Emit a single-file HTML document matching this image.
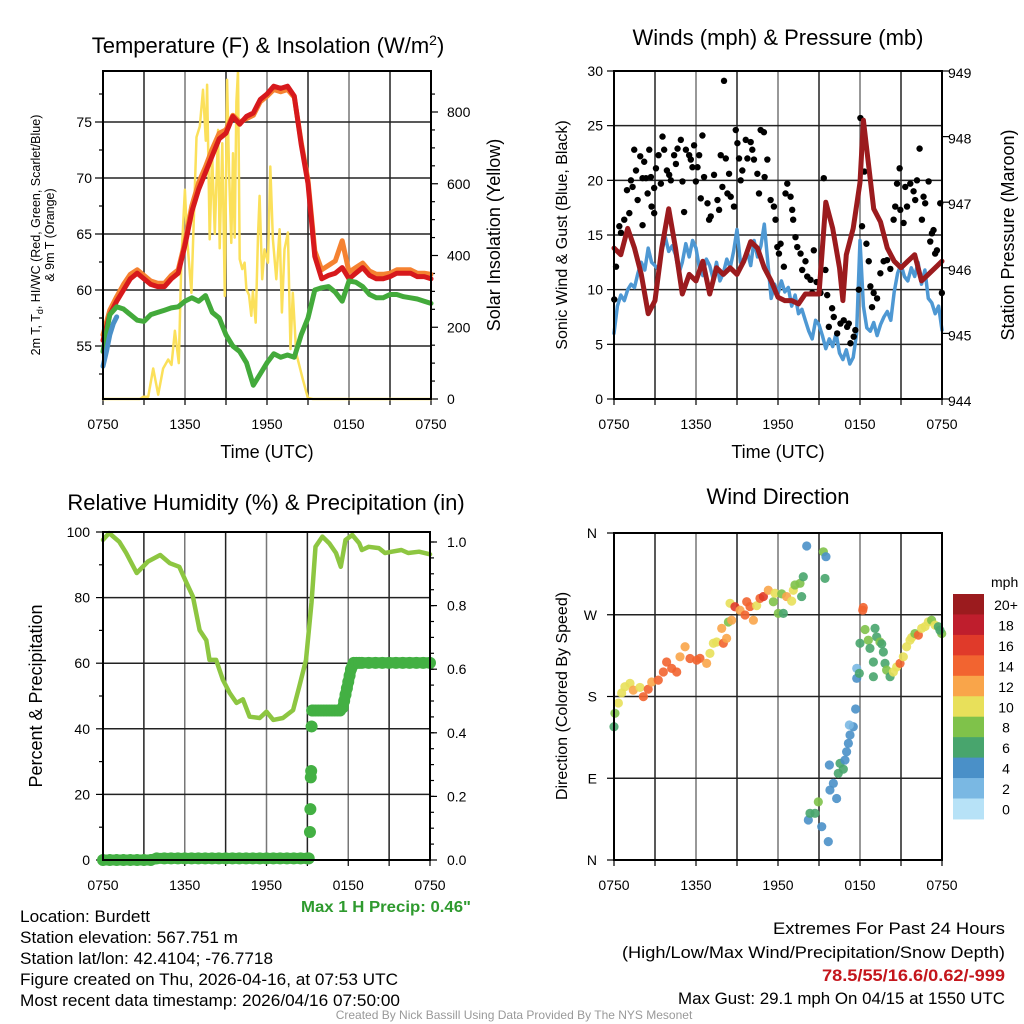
<!DOCTYPE html>
<html><head><meta charset="utf-8"><style>
html,body{margin:0;padding:0;background:#fff;}
svg{display:block;font-family:"Liberation Sans",sans-serif;}
</style></head><body>
<svg id="c" width="1024" height="1024" viewBox="0 0 1024 1024" xmlns="http://www.w3.org/2000/svg">
<rect x="0" y="0" width="1024" height="1024" fill="#fff"/>
<g id="g1"></g>
<g id="g2"></g>
<g id="g3"></g>
<g id="g4"></g>
<g font-size="22" text-anchor="middle">
<text x="268" y="53">Temperature (F) &amp; Insolation (W/m<tspan dy="-8" font-size="14">2</tspan><tspan dy="8">)</tspan></text>
<text x="778" y="45">Winds (mph) &amp; Pressure (mb)</text>
<text x="266" y="510">Relative Humidity (%) &amp; Precipitation (in)</text>
<text x="778" y="504">Wind Direction</text>
</g>
<g font-size="18" text-anchor="middle">
<text x="267" y="458">Time (UTC)</text>
<text x="778" y="458">Time (UTC)</text>
<text transform="translate(500,235) rotate(-90)">Solar Insolation (Yellow)</text>
<text transform="translate(567,235) rotate(-90)" font-size="16">Sonic Wind &amp; Gust (Blue, Black)</text>
<text transform="translate(1014,235) rotate(-90)">Station Pressure (Maroon)</text>
<text transform="translate(42,696) rotate(-90)">Percent &amp; Precipitation</text>
<text transform="translate(567,696) rotate(-90)" font-size="16">Direction (Colored By Speed)</text>
<text transform="translate(40,235) rotate(-90)" font-size="12.5">2m T, T<tspan font-size="9" dy="3">d</tspan><tspan dy="-3">, HI/WC (Red, Green, Scarlet/Blue)</tspan></text>
<text transform="translate(54,235) rotate(-90)" font-size="12.5">&amp; 9m T (Orange)</text>
</g>
<g font-size="17">
<text x="20" y="922" textLength="130" lengthAdjust="spacingAndGlyphs">Location: Burdett</text>
<text x="20" y="943" textLength="218" lengthAdjust="spacingAndGlyphs">Station elevation: 567.751 m</text>
<text x="20" y="964" textLength="253" lengthAdjust="spacingAndGlyphs">Station lat/lon: 42.4104; -76.7718</text>
<text x="20" y="985" textLength="378" lengthAdjust="spacingAndGlyphs">Figure created on Thu, 2026-04-16, at 07:53 UTC</text>
<text x="20" y="1006" textLength="380" lengthAdjust="spacingAndGlyphs">Most recent data timestamp: 2026/04/16 07:50:00</text>
</g>
<g font-size="17" text-anchor="end">
<text x="1005" y="934" textLength="232" lengthAdjust="spacingAndGlyphs">Extremes For Past 24 Hours</text>
<text x="1005" y="958" textLength="383" lengthAdjust="spacingAndGlyphs">(High/Low/Max Wind/Precipitation/Snow Depth)</text>
<text x="1005" y="981" fill="#c4161c" font-weight="bold" textLength="183" lengthAdjust="spacingAndGlyphs">78.5/55/16.6/0.62/-999</text>
<text x="1005" y="1004" textLength="327" lengthAdjust="spacingAndGlyphs">Max Gust: 29.1 mph On 04/15 at 1550 UTC</text>
</g>
<text x="471" y="912" font-size="16" font-weight="bold" fill="#2e9a2e" text-anchor="end" textLength="170" lengthAdjust="spacingAndGlyphs">Max 1 H Precip: 0.46"</text>
<text x="514" y="1019" font-size="12" fill="#999" text-anchor="middle">Created By Nick Bassill Using Data Provided By The NYS Mesonet</text>
</svg>
<script>
// ---------- DATA ----------
const xTickLabels = ["0750","1350","1950","0150","0750"];
const tempTicks = [55,60,65,70,75];
const solarTicks = [0,200,400,600,800];
const windTicks = [0,5,10,15,20,25,30];
const presTicks = [944,945,946,947,948,949];
const rhTicks = [0,20,40,60,80,100];
const precipTicks = ["0.0","0.2","0.4","0.6","0.8","1.0"];
const dirTicks = ["N","E","S","W","N"];
const speedBins = ["0","2","4","6","8","10","12","14","16","18","20+"];

const tempRed = [55.5,57.8,59,60,61,61.5,61,60.5,60.3,60.3,61,61.5,64,67,69,70.5,72,73.5,74,75.5,74.8,75.5,75.8,77,77.5,78.2,78,78.2,77.3,73,69.5,63,61,61.3,61.5,62,61,61.5,62,61.3,61,61,61.2,61.5,61.5,61.5,61.2,61.2,61];
const temp9m = [56,58.2,59.4,60.5,61.4,61.8,61.3,60.8,60.6,60.6,61.3,61.8,64.3,67.5,69.6,71,72.6,74,74.3,75.6,75,75.3,75.6,76.8,77.3,77.9,77.7,77.9,77.2,73.2,69.8,63.5,61.8,62.2,62.6,64.4,61.6,62,62.4,61.7,61.4,61.4,61.5,61.8,61.8,61.8,61.5,61.5,61.4];
const dewGreen = [54.5,57.8,58.5,58.3,57.8,57.3,57.2,57.8,58,58.2,58.4,58.5,59,59.3,59,59.5,58,57.5,56,55,54.5,53.5,51.5,52.5,53.5,54.3,54,54.2,54,56,57.5,60,60.2,60.3,59.8,59,60.8,60.7,60.3,59.6,59.3,59.3,59.6,59.6,59.4,59.3,59.2,59,58.8];
const wcTimes = [0,0.25,0.5,0.75,1.0];
const wcBlue = [53.2,54.5,56,57,57.6];
const solarTimes = [0,2.7,2.94,3.31,3.67,4.04,4.4,4.77,5.01,5.26,5.55,5.74,5.99,6.16,6.47,6.84,7.08,7.32,7.52,7.62,7.81,7.98,8.18,8.42,8.54,8.73,8.91,9.08,9.22,9.39,9.51,9.64,9.76,9.88,10.0,10.19,10.36,10.49,10.68,10.85,10.97,11.17,11.34,11.46,11.65,11.82,12.07,12.24,12.43,12.68,12.92,13.09,13.28,13.53,13.72,13.89,14.14,14.62,14.99,15.35,24];
const solarVals = [0,0,6,6,85,12,85,110,95,190,100,390,583,445,296,730,760,862,720,876,445,685,460,750,420,713,287,890,638,435,685,450,829,913,390,362,380,306,290,232,300,213,455,566,334,417,380,648,445,334,473,241,417,464,139,296,128,55,3,0,0];

const gustPts = [[0.02,9.1],[0.15,12.1],[0.39,15.8],[0.51,15.2],[0.75,16.4],[0.95,19.1],[1.12,17.0],[1.24,20.0],[1.36,19.4],[1.48,22.8],[1.61,20.9],[1.73,18.2],[1.92,22.2],[2.09,15.9],[2.09,20.2],[2.21,21.7],[2.34,20.2],[2.46,18.8],[2.58,22.8],[2.7,20.3],[2.75,17.6],[2.94,17.0],[2.94,19.3],[3.07,21.1],[3.26,22.3],[3.43,19.7],[3.55,24.0],[3.67,22.8],[3.87,20.9],[4.04,20.5],[4.16,20.0],[4.4,22.3],[4.53,21.5],[4.65,22.9],[4.89,23.7],[5.01,19.9],[5.13,17.1],[5.26,22.8],[5.5,22.3],[5.62,21.9],[5.74,21.2],[5.86,23.2],[5.99,19.9],[6.11,21.2],[6.23,22.3],[6.47,24.1],[6.35,18.35],[6.59,20.3],[6.84,17.9],[6.96,16.4],[7.08,16.7],[7.32,20.5],[7.57,18.2],[7.69,17.3],[7.81,22.3],[7.93,19.4],[8.05,29.1],[8.18,22.0],[8.3,18.8],[8.42,20.6],[8.54,18.5],[8.78,17.6],[8.91,24.6],[9.03,23.4],[9.15,22.0],[9.27,20.0],[9.39,20.9],[9.64,23.7],[9.76,22.0],[10.0,23.5],[10.12,22.8],[10.24,21.9],[10.49,20.6],[10.61,18.8],[10.73,24.6],[10.97,24.4],[11.02,20.3],[11.22,21.9],[11.46,18.2],[11.7,17.6],[11.82,16.4],[11.95,13.9],[12.07,13.3],[12.19,14.2],[12.43,12.1],[12.55,18.8],[12.68,19.7],[12.92,18.5],[13.04,17.3],[13.11,16.4],[13.28,14.8],[13.41,13.9],[13.65,13.3],[13.77,11.8],[14.01,12.6],[14.14,11.2],[14.38,10.9],[14.5,9.7],[14.62,13.6],[14.82,10.7],[15.11,9.7],[15.35,20.2],[15.47,11.8],[15.6,9.5],[15.72,6.6],[15.96,8.3],[16.08,7.5],[16.33,6.0],[16.57,6.9],[16.81,7.2],[17.06,6.6],[17.18,6.9],[17.3,5.1],[17.54,5.7],[17.66,6.3],[17.91,10.0],[18.03,25.7],[18.15,15.8],[18.32,20.8],[18.47,14.2],[18.64,12.6],[18.76,10.3],[18.88,8.4],[19.0,9.7],[19.25,9.2],[19.49,11.5],[19.73,12.6],[19.98,12.7],[20.22,11.9],[20.46,16.4],[20.58,17.6],[20.71,19.7],[20.9,21.1],[20.95,17.3],[21.19,16.1],[21.31,19.4],[21.44,17.6],[21.68,19.7],[21.92,19.0],[22.04,18.2],[22.17,20.0],[22.36,22.9],[22.53,16.4],[22.65,18.5],[22.77,17.9],[23.02,19.9],[23.14,14.4],[23.26,15.15],[23.38,15.45],[23.5,13.3],[23.63,13.6],[23.87,17.9],[23.99,9.7]];
const windBlue = [6,8.5,9.5,9,10,10.5,10.2,11.5,12.5,11.8,13.8,12.5,12.2,11.8,13.5,14.8,13.5,14,13.2,11.5,12.5,14.2,13,14.5,13.8,12,11.3,12.8,12.2,11,12.5,10.8,11.5,12.8,12,13.5,15.5,12.5,12.8,13.5,12.2,14.5,13,14,16,12.5,9.2,10.5,9.6,10.8,9.8,10.2,8.5,9.5,7.8,8.2,7.2,6.2,5.5,7.2,6.8,5.8,4.6,5.5,4.8,6,4.2,3.6,4.5,3.2,3.8,6,14.5,8.5,6.5,6.2,7,5.8,6.8,7.5,8,7.2,9.8,11.5,12.3,11.2,10.8,12,11.2,12.5,10.5,11.8,9.2,8.8,7.8,8.5,6.3];
const presTimes = [0,0.5,1,1.5,2,2.5,3,3.5,4,4.5,5,5.5,6,6.5,7,7.5,8,8.5,9,9.5,10,10.5,11,11.5,12,12.5,13,13.5,14,14.5,15,15.5,16,16.5,16.75,17,17.5,18,18.25,18.5,19,19.5,20,20.5,21,21.5,22,22.5,23,23.5,24];
const presVals = [946.3,946.2,946.6,946.3,945.9,945.3,945.5,946.3,946.9,946.3,945.6,945.9,945.8,946.1,945.6,946.0,945.9,946.0,945.9,946.1,946.4,946.3,946.0,945.8,945.55,945.5,945.5,945.45,945.6,945.6,945.6,947.0,946.6,946.0,945.5,946.2,946.6,947.3,948.25,947.8,946.9,946.7,946.3,946.1,946.0,946.1,946.2,945.8,945.9,946.0,946.1];

const rhTimes = [0,0.45,1.2,1.7,2.47,3.3,4.2,4.9,5.6,6.1,6.6,7.09,7.58,7.82,8.3,8.8,9.3,9.8,10.27,10.76,11.5,12,12.5,13.2,13.95,14.4,14.9,15.3,15.6,16.1,16.6,17.1,17.45,17.8,18.3,18.8,19.0,19.5,20.25,20.7,21.2,21.9,22.4,23.2,24];
const rhVals = [97.6,99.7,97,93.6,87.5,91,93,90.5,89.4,84.8,80.3,70.1,67,61,61,54.9,50.9,47.9,49,43.7,43.3,45.2,42.7,43.3,45.7,52.8,61,78.4,95.5,98.6,96.6,93.6,89.4,97.6,99.1,96.6,94.5,95.5,95.1,93.6,94,94.5,93.6,94,93.2];
const precipTimes = [0,0.5,1,1.5,2,2.5,3,3.5,3.94,4.5,5,5.5,6,6.5,7,7.5,8,8.5,9,9.5,10,10.5,11,11.5,12,12.5,13,13.5,14,14.5,15,15.1,15.19,15.22,15.25,15.28,15.31,15.35,15.4,15.6,15.8,16,16.2,16.4,16.6,16.8,17,17.2,17.4,17.6,17.7,17.8,17.9,18,18.1,18.2,18.3,18.4,18.6,18.8,19,19.5,20,20.5,21,21.5,22,22.5,23,23.5,24];
const precipVals = [0,0,0,0,0,0,0,0,0.005,0.005,0.005,0.005,0.005,0.005,0.005,0.005,0.005,0.005,0.005,0.005,0.005,0.005,0.005,0.005,0.005,0.005,0.005,0.005,0.005,0.005,0.005,0.005,0.088,0.16,0.26,0.28,0.42,0.47,0.47,0.47,0.47,0.47,0.47,0.47,0.47,0.47,0.47,0.47,0.47,0.48,0.5,0.52,0.54,0.56,0.58,0.6,0.61,0.62,0.62,0.62,0.62,0.62,0.62,0.62,0.62,0.62,0.62,0.62,0.62,0.62,0.62];

const dirPts = [[0,146.7,7],[0.07,161.5,9],[0.32,172.8,11],[0.56,183.9,11],[0.8,190.8,11],[1.17,194.5,11],[1.41,187,13],[1.9,190,11],[2.15,179.8,15],[2.5,188,15],[2.76,196,13],[3.24,198,15],[3.61,207,15],[3.85,218,15],[4.22,211,15],[4.59,207,15],[4.83,223.7,13],[5.2,234.8,13],[5.56,221.8,15],[6.05,220,15],[6.29,222,15],[6.78,216.5,13],[7.02,227.5,11],[7.27,238.6,11],[7.51,240,11],[8.0,238.6,15],[8.24,244,13],[7.88,255,13],[8.37,262,9],[8.61,264,13],[8.49,282.6,11],[8.85,278.8,17],[9.22,275,13],[9.59,269.7,15],[9.71,284.3,15],[9.95,279,15],[10.2,264,13],[10.44,280,11],[10.68,288,15],[10.93,290,17],[11.29,297,13],[11.66,284.3,9],[11.78,293.7,11],[12.02,271.5,9],[12.27,293,9],[12.39,271.5,7],[12.63,290,13],[13.0,285,11],[13.12,297,11],[13.24,302.8,9],[13.61,304.6,9],[13.73,290,7],[13.85,311.8,7],[14.1,345.7,5],[15.32,339.3,9],[15.51,333.9,5],[15.44,310,7],[14.22,44,5],[14.34,51.4,7],[14.71,51.4,7],[14.95,64,9],[15.2,36.7,5],[15.68,20.2,5],[15.8,77,5],[16.05,84.4,5],[16.29,67.7,5],[16.41,95.4,7],[16.54,106.4,7],[16.78,100,7],[15.76,104.6,5],[16.9,110,5],[17.02,119.2,5],[17.15,128.4,5],[17.27,137.6,5],[17.51,146.7,5],[17.22,148.6,3],[17.68,166.2,5],[17.76,200,5],[17.76,211,3],[17.95,205.5,7],[18.2,275,15],[18.24,278,15],[18.0,238.6,7],[18.37,253.8,9],[18.61,242,9],[18.73,233,7],[18.98,218,7],[18.98,201.8,7],[19.1,255,7],[19.22,245.6,7],[19.46,240,9],[19.59,238,7],[19.71,229,7],[19.83,216.5,7],[19.95,209,9],[20.2,201.8,7],[20.44,207,11],[20.68,212.5,11],[20.93,216.5,15],[21.17,223.7,11],[21.41,234.8,11],[21.66,242,11],[21.78,245,11],[22.02,249.3,9],[22.27,247.6,15],[22.51,255,11],[22.76,257,11],[23.0,262.2,11],[23.24,264,9],[23.49,258.6,11],[23.73,256.8,7],[23.98,249.3,9],[23.85,253,7]];

// ---------- DRAWING ----------
const NS = "http://www.w3.org/2000/svg";
const binColors = ["#b7e2f7","#7ab8e3","#4a90c8","#48a56d","#7fc24a","#e8e05a","#f9a54a","#f26430","#e03a2a","#bf1e2d","#9b1b1e"];
function el(parent, tag, attrs){ const e=document.createElementNS(NS,tag); for(const k in attrs) e.setAttribute(k,attrs[k]); parent.appendChild(e); return e; }
function lin(d0,d1,r0,r1){ return v => r0 + (v-d0)*(r1-r0)/(d1-d0); }

function frame(g, L, T, R, B, xs, name){
  for(let h=3; h<24; h+=3){
    const l = el(g,'line',{x1:xs(h),x2:xs(h),y1:T,y2:B,stroke:(h%6===0?'#777':'#222'),'stroke-width':1.5});
    
    
  }
  for(let i=0;i<xTickLabels.length;i++){
    const x = xs(i*6);
    const t = el(g,'text',{x:x,y:B+30,'font-size':14,'text-anchor':'middle'});
    t.textContent = xTickLabels[i];
    
    
  }
  for(let h=0; h<=24; h+=3){
    const tk = el(g,'line',{x1:xs(h),x2:xs(h),y1:B,y2:B+6,stroke:'#000','stroke-width':1.2});
    
    
  }
}
function hgrid(g, L, R, y, name){
  const l = el(g,'line',{x1:L,x2:R,y1:y,y2:y,stroke:'#222','stroke-width':1.5});
  
  
}
function box(g,L,T,R,B,name){
  const r = el(g,'rect',{x:L,y:T,width:R-L,height:B-T,fill:'none',stroke:'#000','stroke-width':2});
  
  
}
function label(g,x,y,txt,anchor,name){
  const t = el(g,'text',{x:x,y:y+5,'font-size':14,'text-anchor':anchor});
  t.textContent = txt;
  
  
}
function tick(g,x1,x2,y,name){
  const t = el(g,'line',{x1:x1,x2:x2,y1:y,y2:y,stroke:'#000','stroke-width':1.2});
  
  
}
function path(g, xs, ys, tArr, vArr, color, w, name){
  let d='';
  for(let i=0;i<tArr.length;i++) d += (i?'L':'M')+xs(tArr[i]).toFixed(1)+','+ys(vArr[i]).toFixed(1);
  const p = el(g,'path',{d:d,fill:'none',stroke:color,'stroke-width':w,'stroke-linejoin':'round','stroke-linecap':'round'});
  
  
}
const halfTimes = []; for(let i=0;i<49;i++) halfTimes.push(i*0.5);
const qTimes = []; for(let i=0;i<97;i++) qTimes.push(i*0.25);

// Panel 1
(function(){
  const g=document.getElementById('g1'), L=103,T=71,R=431,B=399;
  const xs=lin(0,24,L,R), ys=lin(55,75,346,122), ys2=lin(0,800,399,112);
  frame(g,L,T,R,B,xs,'temp');
  tempTicks.forEach(v=>{ hgrid(g,L,R,ys(v),'temp'); tick(g,L-8,L,ys(v),'temp-y-tick'); label(g,L-11,ys(v),String(v),'end','temp-y-tick-label'); });
  for(let v=52.5; v<80; v+=5) tick(g,L-4,L,ys(v),'temp-y-minor-tick');
  solarTicks.forEach(v=>{ tick(g,R,R+7,ys2(v),'solar-y-tick'); label(g,R+16,ys2(v),String(v),'start','solar-y-tick-label'); });
  for(let v=50; v<900; v+=50) if(v%200) tick(g,R,R+4,ys2(v),'solar-y-minor-tick');
  path(g,xs,ys2,solarTimes,solarVals,'#fbe05a',2.5,'solar-insolation-line');
  path(g,xs,ys,halfTimes,temp9m,'#f58231',5,'temp-9m-line');
  path(g,xs,ys,halfTimes,tempRed,'#d7191c',5,'temp-2m-line');
  path(g,xs,ys,halfTimes,dewGreen,'#43aa3b',5,'dewpoint-line');
  path(g,xs,ys,wcTimes,wcBlue,'#4a90c8',5,'windchill-line');
  box(g,L,T,R,B,'temp');
})();

// Panel 2
(function(){
  const g=document.getElementById('g2'), L=614,T=71,R=942,B=399;
  const xs=lin(0,24,L,R), ys=lin(0,30,399,71), ys2=lin(944,949,399,71);
  frame(g,L,T,R,B,xs,'wind');
  windTicks.forEach(v=>{ if(v>0&&v<30) hgrid(g,L,R,ys(v),'wind'); tick(g,L-7,L,ys(v),'wind-y-tick'); label(g,L-11,ys(v),String(v),'end','wind-y-tick-label'); });
  presTicks.forEach(v=>{ tick(g,R,R+7,ys2(v),'pressure-y-tick'); label(g,R+6,ys2(v)+2,String(v),'start','pressure-y-tick-label'); });
  path(g,xs,ys,qTimes,windBlue,'#4e98d3',3.5,'sonic-wind-line');
  gustPts.forEach(p=>{
    const c = el(g,'circle',{cx:xs(p[0]),cy:ys(p[1]),r:3.2,fill:'#000'});
    
    
  });
  path(g,xs,ys2,presTimes,presVals,'#9b1b1e',5,'pressure-line');
  box(g,L,T,R,B,'wind');
})();

// Panel 3
(function(){
  const g=document.getElementById('g3'), L=103,T=532,R=430,B=860;
  const xs=lin(0,24,L,R), ys=lin(0,100,860,532), ys2=lin(0,1,860,542);
  frame(g,L,T,R,B,xs,'rh');
  rhTicks.forEach(v=>{ if(v>0&&v<100) hgrid(g,L,R,ys(v),'rh'); tick(g,L-7,L,ys(v),'rh-y-tick'); label(g,L-13,ys(v),String(v),'end','rh-y-tick-label'); });
  for(let v=10; v<100; v+=20) tick(g,L-4,L,ys(v),'rh-y-minor-tick');
  precipTicks.forEach(v=>{ tick(g,R,R+7,ys2(+v),'precip-y-tick'); label(g,R+17,ys2(+v),v,'start','precip-y-tick-label'); });
  for(let v=0.05; v<1.03; v+=0.05) tick(g,R,R+4,ys2(v),'precip-y-minor-tick');
  path(g,xs,ys,rhTimes,rhVals,'#8dc641',4.5,'relative-humidity-line');
  path(g,xs,ys2,precipTimes.slice(0,31),precipVals.slice(0,31),'#43b043',11,'precip-base-line');
  path(g,xs,ys2,precipTimes.slice(37),precipVals.slice(37),'#43b043',11,'precip-accum-line');
  precipTimes.forEach((t,i)=>{
    const c = el(g,'circle',{cx:xs(t),cy:ys2(precipVals[i]),r:6,fill:'#43b043'});
    
    
  });
  box(g,L,T,R,B,'rh');
})();

// Panel 4
(function(){
  const g=document.getElementById('g4'), L=614,T=533,R=942,B=860;
  const xs=lin(0,24,L,R), ys=lin(0,360,860,533);
  frame(g,L,T,R,B,xs,'dir');
  dirTicks.forEach((v,i)=>{ const y=ys(i*90); if(i>0&&i<4) hgrid(g,L,R,y,'dir'); tick(g,L-7,L,y,'dir-y-tick'); label(g,L-17,y,v,'end','dir-y-tick-label'); });
  dirPts.forEach(p=>{
    const bin = Math.min(10, Math.floor(p[2]/2));
    const c = el(g,'circle',{cx:xs(p[0]),cy:ys(p[1]),r:4.6,fill:binColors[bin],'fill-opacity':0.9});
    
    
  });
  box(g,L,T,R,B,'dir');
  const cbT=594, cbH=20.45;
  const lt = el(g,'text',{x:991,y:587,'font-size':14}); lt.textContent='mph';
  
  
  speedBins.forEach((s,i)=>{
    const k = speedBins.length-1-i;
    const r = el(g,'rect',{x:953,y:cbT+i*cbH,width:31,height:cbH+0.5,fill:binColors[k]});
    
    
    const t = el(g,'text',{x:1006,y:cbT+i*cbH+16,'font-size':14,'text-anchor':'middle'}); t.textContent=speedBins[k];
    
    
  });
})();
</script>
</body></html>
